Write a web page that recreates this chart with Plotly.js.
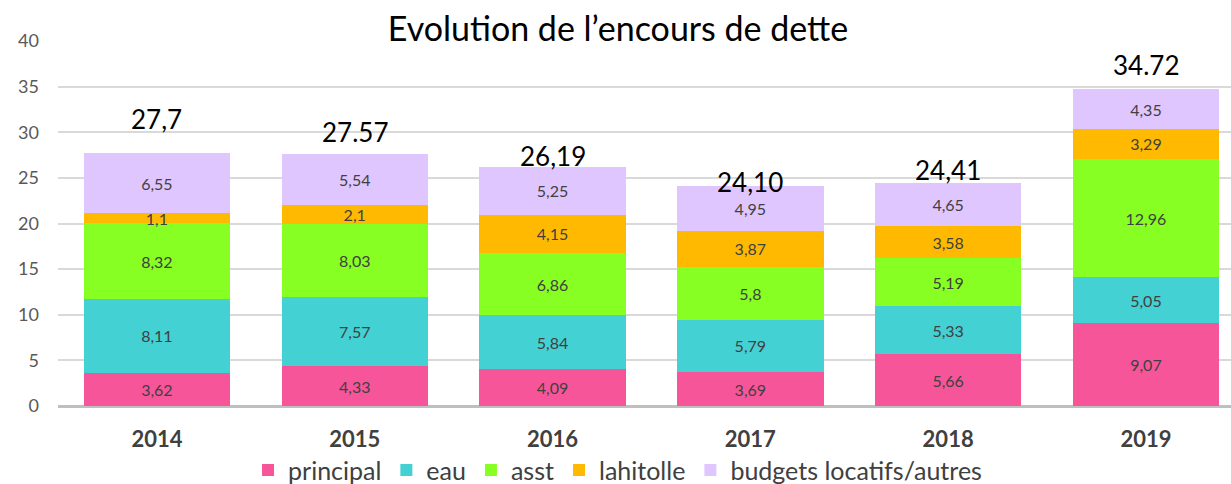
<!DOCTYPE html>
<html><head><meta charset="utf-8">
<script src="https://cdn.plot.ly/plotly-3.0.1.min.js"></script>
<style>body{margin:0;background:#fff}#chart{width:1231px;height:484px}</style>
</head><body><div id="chart"></div>
<script>
const years = ["2014","2015","2016","2017","2018","2019"];
const principal = [3.62,4.33,4.09,3.69,5.66,9.07];
const eau = [8.11,7.57,5.84,5.79,5.33,5.05];
const asst = [8.32,8.03,6.86,5.8,5.19,12.96];
const lahitolle = [1.1,2.1,4.15,3.87,3.58,3.29];
const budgets = [6.55,5.54,5.25,4.95,4.65,4.35];
const totalLabels = ["27,7","27.57","26,19","24,10","24,41","34.72"];
const totalLabelY = [31.4,30.0,27.4,24.5,25.9,37.4];

const FONT = "Lato, 'Noto Sans', sans-serif";
function fmt(v){return String(v).replace('.',',');}
function series(name, vals, color){
  return {type:'bar', name:name, x:years, y:vals, marker:{color:color, line:{width:0}},
    text: vals.map(fmt), textposition:'inside', insidetextanchor:'middle', constraintext:'none',
    textfont:{family:FONT, size:16, color:'#404040'}, hoverinfo:'none'};
}
const data = [
  series('principal', principal, '#F7559A'),
  series('eau', eau, '#43D1D3'),
  series('asst', asst, '#88FF22'),
  series('lahitolle', lahitolle, '#FFB901'),
  series('budgets locatifs/autres', budgets, '#E0C6FF')
];
const annotations = years.map((y,i)=>({x:i, y:totalLabelY[i], xref:'x', yref:'y', text:totalLabels[i],
  showarrow:false, font:{family:FONT, size:26, color:'#000'}, yanchor:'middle', xanchor:'center'}));
const layout = {
  width:1231, height:484, barmode:'stack', bargap:0.26,
  paper_bgcolor:'#fff', plot_bgcolor:'#fff',
  margin:{l:58, r:0, t:41, b:78, autoexpand:false},
  font:{family:FONT},
  title:{text:"Evolution de l’encours de dette", font:{family:FONT, size:34, color:'#000'},
    x:618/1231, xref:'container', xanchor:'center', y:1-29/484, yref:'container', yanchor:'middle'},
  xaxis:{type:'category', range:[-0.5,5.43], automargin:false, showgrid:false, zeroline:false, showline:false, ticks:'',
    tickfont:{family:FONT, size:22, color:'#404040', weight:'bold'}, ticklabelstandoff:18},
  yaxis:{range:[0,40], dtick:5, automargin:false, showgrid:true, gridcolor:'#D9D9D9', gridwidth:2, zeroline:true, zerolinecolor:'#BFBFBF', zerolinewidth:3,
    showline:false, ticks:'', tickfont:{family:FONT, size:18, color:'#595959'}, ticklabelstandoff:18},
  legend:{orientation:'h', x:0.477, xanchor:'center', y:-0.176, yanchor:'middle', traceorder:'normal',
    font:{family:FONT, size:25, color:'#404040'}, itemwidth:30},
  showlegend:true,
  annotations:annotations
};
Plotly.newPlot('chart', data, layout, {displayModeBar:false, staticPlot:true});
</script></body></html>
